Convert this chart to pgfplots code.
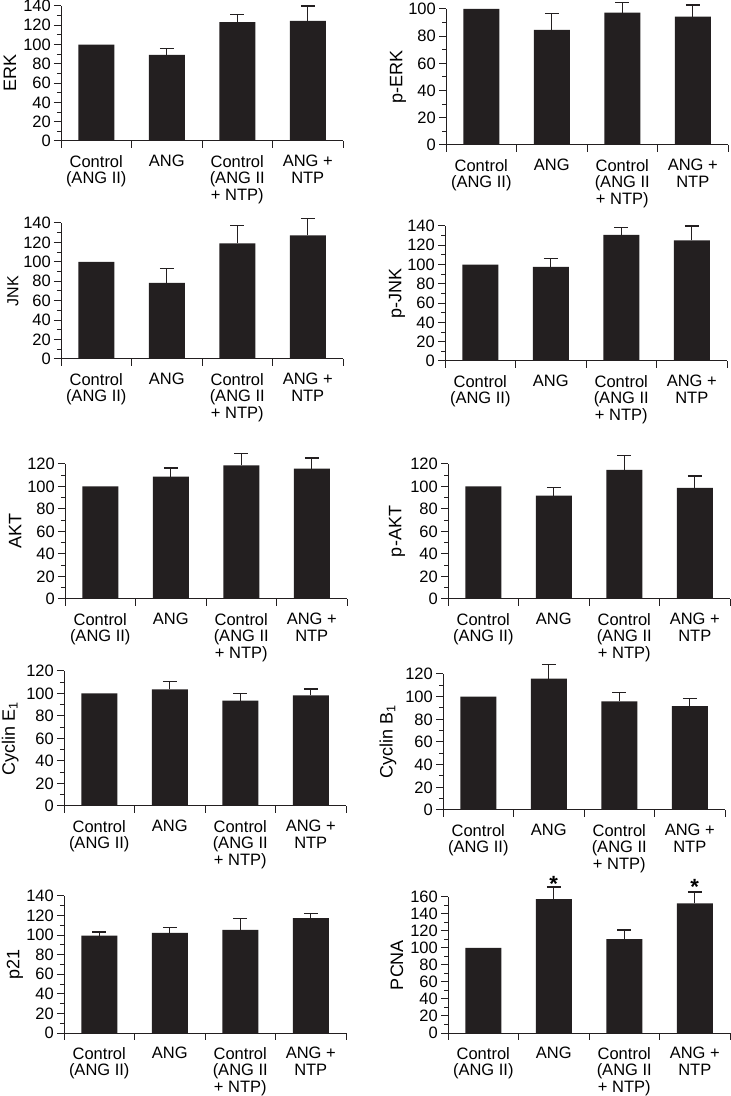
\documentclass[border=0pt]{standalone}
\usepackage{fontspec}
\setmainfont{Liberation Sans}
\usepackage{pgfplots}
\pgfplotsset{compat=1.18}
\definecolor{barc}{RGB}{35,31,32}
\newcommand{\tk}{\fontsize{16.5bp}{16.5bp}\selectfont}
\newcommand{\ylab}{\fontsize{18bp}{18bp}\selectfont}
\pgfplotsset{
 panel/.style={
  scale only axis, width=282bp, anchor=south west,
  xmin=-0.5, xmax=3.5, ymin=0,
  axis x line*=bottom, axis y line*=left,
  axis line style={line width=1bp, -, color=barc},
  xtick={-0.5,0.5,1.5,2.5,3.5}, x tick label as interval,
  xticklabels={{Control\\(ANG II)},{ANG},{Control\\(ANG II\\+ NTP)},{ANG +\\NTP}},
  xticklabel style={align=center, font=\tk, anchor=north, inner sep=0pt, yshift=-7bp},
  ytick distance=20, minor y tick num=1,
  tick align=outside, major tick length=7bp, minor tick length=4bp,
  tick style={line width=1bp, color=barc},
  yticklabel style={font=\tk, inner sep=0pt, xshift=-3bp},
  /pgf/number format/assume math mode=true,
  clip=false,
  ylabel style={font=\ylab, anchor=center},
  ybar, bar width=36bp,
 },
 yoff/.style={ylabel style={at={(axis description cs:#1,0.5)}}},
 bars/.style={fill=barc, draw=none,
  error bars/.cd, y dir=plus, y explicit,
  error bar style={line width=1.3bp, color=barc},
  error mark options={rotate=90, mark size=7bp, line width=1.3bp, color=barc}},
}
\begin{document}
\begin{tikzpicture}
\path[use as bounding box] (0,0) rectangle (731bp,1096bp);
% ERK
\begin{axis}[panel, at={(61bp,955bp)}, height=135bp, ymax=140, ylabel={ERK}, yoff=-0.181]
\addplot[bars] coordinates {(0,100) (1,89.4) +- (0,6.2) (2,123.2) +- (0,8.2) (3,124.5) +- (0,15.5)};
\end{axis}
% p-ERK
\begin{axis}[panel, at={(446bp,951bp)}, height=136bp, ymax=100, ylabel={p-ERK}, yoff=-0.170]
\addplot[bars] coordinates {(0,100) (1,84.6) +- (0,12.2) (2,97.3) +- (0,7.4) (3,94.4) +- (0,8.5)};
\end{axis}
% JNK
\begin{axis}[panel, at={(61bp,737bp)}, height=136bp, ymax=140, ylabel={JNK}, yoff=-0.170, ylabel style={font=\fontsize{16bp}{16bp}\selectfont}]
\addplot[bars] coordinates {(0,100) (1,78.4) +- (0,14.5) (2,119) +- (0,18.6) (3,127.3) +- (0,17.2)};
\end{axis}
% p-JNK
\begin{axis}[panel, at={(445bp,735bp)}, height=135bp, ymax=140, ylabel={p-JNK}, yoff=-0.170]
\addplot[bars] coordinates {(0,100) (1,97.5) +- (0,8.6) (2,130.7) +- (0,7.6) (3,125.1) +- (0,14.9)};
\end{axis}
% AKT
\begin{axis}[panel, at={(65bp,497bp)}, height=135bp, ymax=120, ylabel={AKT}, yoff=-0.177]
\addplot[bars] coordinates {(0,100) (1,108.8) +- (0,7.7) (2,118.8) +- (0,10.4) (3,115.9) +- (0,9.4)};
\end{axis}
% p-AKT
\begin{axis}[panel, at={(448bp,497bp)}, height=135bp, ymax=120, ylabel={p-AKT}, yoff=-0.181]
\addplot[bars] coordinates {(0,100) (1,91.9) +- (0,7.4) (2,114.7) +- (0,12.7) (3,98.7) +- (0,10.6)};
\end{axis}
% Cyclin E1
\begin{axis}[panel, at={(64bp,290bp)}, height=135bp, ymax=120, ylabel={Cyclin E\textsubscript{1}}, yoff=-0.191]
\addplot[bars] coordinates {(0,100) (1,103.7) +- (0,7.1) (2,93.6) +- (0,6.5) (3,98.3) +- (0,5.6)};
\end{axis}
% Cyclin B1
\begin{axis}[panel, at={(443bp,286bp)}, height=136bp, ymax=120, ylabel={Cyclin B\textsubscript{1}}, yoff=-0.195]
\addplot[bars] coordinates {(0,100) (1,115.9) +- (0,12.6) (2,95.8) +- (0,7.7) (3,91.7) +- (0,6.8)};
\end{axis}
% p21
\begin{axis}[panel, at={(64bp,63bp)}, height=137bp, ymax=140, ylabel={p21}, yoff=-0.174]
\addplot[bars] coordinates {(0,99.6) +- (0,3.7) (1,102.4) +- (0,5.5) (2,105.5) +- (0,11.3) (3,117.4) +- (0,4.5)};
\end{axis}
% PCNA
\begin{axis}[panel, at={(448bp,63bp)}, height=136bp, ymax=160, ylabel={PCNA}, yoff=-0.181]
\addplot[bars] coordinates {(0,100) (1,157.6) +- (0,14.2) (2,110.5) +- (0,10.6) (3,152.5) +- (0,13.4)};
\node[font=\fontsize{22bp}{22bp}\selectfont\bfseries, anchor=base] at (axis cs:1,167) {*};
\node[font=\fontsize{22bp}{22bp}\selectfont\bfseries, anchor=base] at (axis cs:3,162.5) {*};
\end{axis}
\end{tikzpicture}
\end{document}
